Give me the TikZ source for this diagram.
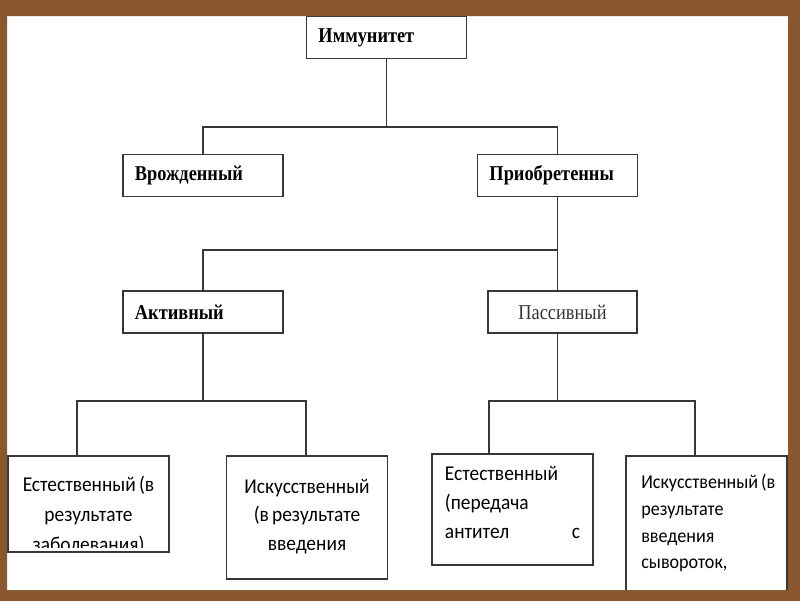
\documentclass[tikz,border=0pt]{standalone}
\usepackage{fontspec}
\setmainfont{Liberation Serif}[FakeStretch=0.87]
\newfontfamily\calfont{Carlito}[FakeStretch=0.92]
\usepackage{tikz}

\definecolor{wood}{RGB}{138,88,48}
\definecolor{linec}{RGB}{55,55,55}
\newcommand\wsp{\hspace{0.15em}}

\begin{document}
\begin{tikzpicture}[x=0.025cm, y=-0.025cm,
        box/.style={rectangle, draw=linec, line width=1pt, inner xsep=0.3cm, inner ysep=0pt, minimum height=1.05cm, text width=3.4cm, align=left, font=\bfseries\fontsize{15}{17}\selectfont},
        leaf/.style={rectangle, draw=linec, line width=1pt, minimum width=4.025cm},
        txt/.style={inner sep=0pt, font=\calfont\fontsize{15}{#1}\selectfont},
        link/.style={draw=linec, line width=0.9pt}
    ]
        \useasboundingbox (0,0) rectangle (800,600);
        \fill[white] (0,0) rectangle (800,600);

        % ================= VERHNIE UROVNI =================
        \node[box] (imm) at (386.5,37.5) {Иммунитет};
        \node[box] (vrozh) at (203,175.5) {Врожденный};
        \node[box] (priobr) at (557.5,175.5) {Приобретенны};
        \node[box] (aktiv) at (203,312) {Активный};
        \node[box, text width=3.125cm, align=center, font=\fontsize{15}{17}\selectfont, text=black!80] (passiv) at (562.5,312) {Пассивный};

        \coordinate (fork1) at (386.5,127);
        \coordinate (fork2) at (557.5,250);
        \draw[link] (imm.south) -- (fork1);
        \draw[link] (vrozh.north) |- (fork1) -| (priobr.north);
        \draw[link] (priobr.south) -- (fork2) -- (fork2 |- passiv.north);
        \draw[link] (aktiv.north) |- (fork2);

        % ================= NIZHNIJ UROVEN =================
        \node[leaf, minimum height=2.4cm] (b1) at (88.5,504) {};
        \node[leaf, minimum height=3.075cm] (b2) at (307,517.5) {};
        \node[leaf, minimum height=2.775cm] (b3) at (512.5,509.5) {};
        \node[leaf, minimum height=4.1cm] (b4) at (706.5,538) {};

        \begin{scope}
            \clip (b1.north west) rectangle ([yshift=0.125cm]b1.south east);
            \node[txt=21.3pt, anchor=north, text width=3.8cm, align=center] (b1t) at (88.5,470) {\strut Естественный\wsp(в\\результате\\заболевания)};
        \end{scope}
        \node[txt=20.3pt, anchor=north, text width=3.8cm, align=center] (b2t) at (307,473) {\strut Искусственный\\(в\wsp результате\\введения};
        \node[txt=20.6pt, anchor=north, text width=3.375cm, align=left] (b3t) at (512.5,460) {\strut Естественный\\(передача\\антител\hfill с};
        \node[txt=18.9pt, font=\calfont\fontsize{14}{18.9}\selectfont, anchor=north west, text width=3.8cm, align=left] (b4t) at (641,470) {\strut Искусственный\wsp(в\\результате\\введения\\сывороток,};

        \coordinate (akL) at (77,401);
        \coordinate (akR) at (306,401);
        \coordinate (psL) at (489,401);
        \coordinate (psR) at (695,401);
        \draw[link] (aktiv.south) -- (aktiv.south |- akL);
        \draw[link] (b1.north -| akL) -- (akL) -- (akR) -- (b2.north -| akR);
        \draw[link] (fork2 |- passiv.south) -- (fork2 |- psL);
        \draw[link] (b3.north -| psL) -- (psL) -- (psR) -- (b4.north -| psR);

        % ramka
        \fill[wood, even odd rule] (-20,-20) rectangle (820,620) (7,16) rectangle (788,590);
    \end{tikzpicture}
\end{document}
